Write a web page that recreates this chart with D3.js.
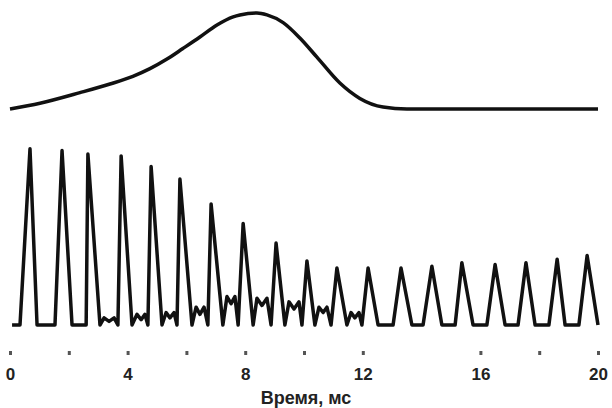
<!DOCTYPE html>
<html>
<head>
<meta charset="utf-8">
<script src="https://cdn.jsdelivr.net/npm/d3@7"></script>
<style>
  body { margin: 0; background: #fff; }
  .axisText { font-family: "Liberation Sans", Arial, sans-serif; font-weight: bold; font-size: 17px; fill: #222; }
  .titleText { font-family: "Liberation Sans", Arial, sans-serif; font-weight: bold; font-size: 18px; fill: #222; }
</style>
</head>
<body>
<div class="container"></div>
<script>
// Pulse train (lower trace), time in ms, amplitude normalised
var pulseTime = [0.07, 0.34, 0.68, 0.92, 1.53, 1.77, 2.11, 2.59, 2.65, 3.06,
  3.20, 3.37, 3.54, 3.67, 3.78, 4.15, 4.32, 4.46, 4.59, 4.69,
  4.80, 5.17, 5.31, 5.44, 5.58, 5.68, 5.78, 6.19, 6.33, 6.46,
  6.60, 6.73, 6.84, 7.24, 7.38, 7.52, 7.65, 7.76, 7.93, 8.27,
  8.40, 8.57, 8.74, 8.88, 9.05, 9.35, 9.49, 9.66, 9.83, 9.93,
  10.10, 10.37, 10.51, 10.65, 10.78, 10.92, 11.12, 11.46, 11.60, 11.73,
  11.87, 11.97, 12.18, 12.52, 13.03, 13.30, 13.67, 14.05, 14.35, 14.69,
  15.14, 15.37, 15.75, 16.22, 16.50, 16.84, 17.28, 17.55, 17.86, 18.33,
  18.61, 18.88, 19.35, 19.63, 20.00];
var pulseAmp = [0, 0, 0.99, 0, 0, 0.98, 0, 0, 0.96, 0,
  0.04, 0.02, 0.04, 0, 0.95, 0, 0.06, 0.03, 0.06, 0,
  0.89, 0, 0.07, 0.04, 0.07, 0, 0.82, 0, 0.10, 0.06,
  0.10, 0, 0.68, 0, 0.16, 0.12, 0.16, 0, 0.57, 0,
  0.15, 0.11, 0.15, 0, 0.46, 0, 0.13, 0.09, 0.13, 0,
  0.36, 0, 0.10, 0.07, 0.10, 0, 0.32, 0, 0.07, 0.04,
  0.07, 0, 0.32, 0, 0, 0.32, 0, 0, 0.33, 0,
  0, 0.35, 0, 0, 0.34, 0, 0, 0.35, 0, 0,
  0.37, 0, 0, 0.39, 0];

// Envelope (upper trace)
var envTime = [0, 1.02, 2.38, 3.40, 4.18, 4.76, 5.34, 5.88, 6.46, 7.04,
  7.59, 7.82, 8.40, 8.74, 9.29, 9.86, 10.44, 11.22, 11.90, 12.69, 13.50, 20.0];
var envAmp = [0, 0.06, 0.17, 0.26, 0.34, 0.42, 0.52, 0.63, 0.75, 0.875,
  0.96, 0.98, 1.0, 0.98, 0.90, 0.74, 0.54, 0.27, 0.11, 0.02, 0, 0];

var tickMarks = [0, 2, 4, 6, 8, 10, 12, 16, 18, 20];
var tickLabels = [0, 4, 8, 12, 16, 20];
var xTitle = "Время, мс";

var svgWidth = 612;
var svgHeight = 408;
var svg;

function PlaceSVG() {
  svg = d3.select(".container")
    .append("svg")
    .attr("width", svgWidth)
    .attr("height", svgHeight);
}

function CreatePlot() {
  // scales
  var xScale = d3.scaleLinear().domain([0, 20]).range([10, 598]);
  var yPulse = d3.scaleLinear().domain([0, 1]).range([325, 147]);
  var yEnv = d3.scaleLinear().domain([0, 1]).range([109, 13]);

  var pulseData = pulseTime.map((t, i) => ({ t: t, a: pulseAmp[i] }));
  var envData = envTime.map((t, i) => ({ t: t, a: envAmp[i] }));

  // upper trace
  var envLine = d3.line()
    .x(d => xScale(d.t))
    .y(d => yEnv(d.a))
    .curve(d3.curveMonotoneX);

  svg.append("path")
    .datum(envData)
    .attr("d", envLine)
    .attr("fill", "none")
    .attr("stroke", "#111")
    .attr("stroke-width", 3.5);

  // lower trace
  var pulseLine = d3.line()
    .x(d => xScale(d.t))
    .y(d => yPulse(d.a));

  svg.append("path")
    .datum(pulseData)
    .attr("d", pulseLine)
    .attr("fill", "none")
    .attr("stroke", "#111")
    .attr("stroke-width", 3.5)
    .attr("stroke-linejoin", "round");

  // x axis: square tick marks, labels every 4 ms, no domain line
  var xAxis = d3.axisBottom(xScale)
    .tickValues(tickMarks)
    .tickSize(4)
    .tickPadding(13)
    .tickFormat(d => tickLabels.indexOf(d) >= 0 ? d : "");

  var axisG = svg.append("g")
    .attr("transform", "translate(0, 351)")
    .call(xAxis);
  axisG.select(".domain").remove();
  axisG.selectAll(".tick line")
    .attr("stroke", "#555")
    .attr("stroke-width", 3);
  axisG.selectAll(".tick text")
    .attr("class", "axisText")
    .attr("font-size", null)
    .attr("font-family", null);

  svg.append("text")
    .attr("class", "titleText")
    .attr("x", 306)
    .attr("y", 404)
    .attr("text-anchor", "middle")
    .text(xTitle);
}

PlaceSVG();
CreatePlot();
</script>
</body>
</html>
